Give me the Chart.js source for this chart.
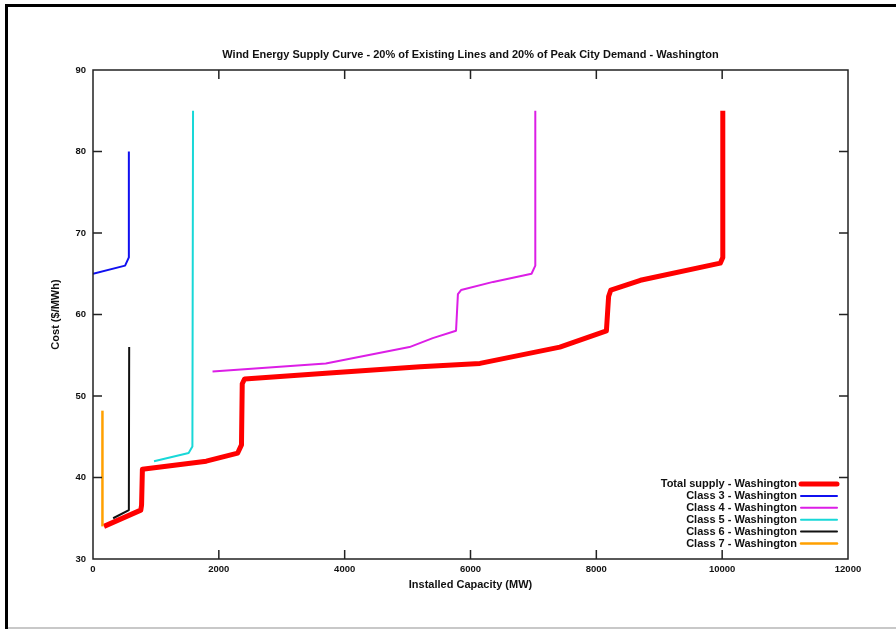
<!DOCTYPE html>
<html>
<head>
<meta charset="utf-8">
<title>Wind Energy Supply Curve - Washington</title>
<script src="https://cdn.jsdelivr.net/npm/chart.js@4.4.0/dist/chart.umd.min.js"></script>
<style>
  body { margin: 0; background: #fff; }
  canvas { display: block; }
</style>
</head>
<body>
<canvas id="chart" width="896" height="629"></canvas>
<script>
const titleText = "Wind Energy Supply Curve - 20% of Existing Lines and 20% of Peak City Demand - Washington";
const xTitle = "Installed Capacity (MW)";
const yTitle = "Cost ($/MWh)";

const seriesLabels = [
  "Total supply - Washington",
  "Class 3 - Washington",
  "Class 4 - Washington",
  "Class 5 - Washington",
  "Class 6 - Washington",
  "Class 7 - Washington",
];
const seriesColors = ["#ff0000", "#1010f0", "#dc1ee6", "#18d8d8", "#111111", "#ffa000"];
const seriesWidths = [5, 2, 2, 2, 2, 2.5];

// capacity (MW) and cost ($/MWh)
const totalX = [175, 760, 772, 785, 1800, 2300, 2360, 2372, 2410, 3700, 5200, 6150, 7420, 8160, 8195, 8230, 8700, 9970, 10010, 10010];
const totalY = [34, 36, 36.6, 41, 42, 43, 44, 51.5, 52.1, 52.8, 53.6, 54, 56, 58, 62.2, 63, 64.2, 66.3, 67, 85];

const class3X = [0, 510, 570, 570];
const class3Y = [65, 66, 67, 80];

const class4X = [1900, 3700, 5030, 5400, 5770, 5800, 5850, 6360, 6970, 7030, 7030];
const class4Y = [53, 54, 56, 57.1, 58, 62.5, 63, 64, 65, 66, 85];

const class5X = [970, 1520, 1580, 1590];
const class5Y = [42, 43, 43.8, 85];

const class6X = [320, 570, 575];
const class6Y = [35, 36, 56];

const class7X = [150, 150];
const class7Y = [34, 48.2];

const xTicks = [0, 2000, 4000, 6000, 8000, 10000, 12000];
const yTicks = [30, 40, 50, 60, 70, 80, 90];

const allX = [totalX, class3X, class4X, class5X, class6X, class7X];
const allY = [totalY, class3Y, class4Y, class5Y, class6Y, class7Y];

function toPoints(xs, ys) {
  return xs.map((x, i) => ({ x: x, y: ys[i] }));
}

const textFont = "'Liberation Sans', Arial, sans-serif";

// page frame like the scanned figure
const framePlugin = {
  id: "frame",
  beforeDraw(chart) {
    const ctx = chart.ctx;
    ctx.save();
    ctx.fillStyle = "#fff";
    ctx.fillRect(0, 0, chart.width, chart.height);
    ctx.fillStyle = "#000";
    ctx.fillRect(5, 4, 3, chart.height - 4);
    ctx.fillRect(5, 4, chart.width - 5, 3);
    ctx.fillStyle = "#c8c8c8";
    ctx.fillRect(8, chart.height - 2, chart.width - 8, 2);
    ctx.restore();
  },
};

// gnuplot style ticks pointing into the plot, on all four sides
const innerTicks = {
  id: "innerTicks",
  afterDatasetsDraw(chart) {
    const ctx = chart.ctx;
    const a = chart.chartArea;
    const len = 9;
    ctx.save();
    ctx.strokeStyle = "#222";
    ctx.lineWidth = 1.5;
    ctx.beginPath();
    xTicks.forEach((v) => {
      const px = chart.scales.x.getPixelForValue(v);
      if (v === xTicks[0] || v === xTicks[xTicks.length - 1]) return;
      ctx.moveTo(px, a.bottom);
      ctx.lineTo(px, a.bottom - len);
      ctx.moveTo(px, a.top);
      ctx.lineTo(px, a.top + len);
    });
    yTicks.forEach((v) => {
      const py = chart.scales.y.getPixelForValue(v);
      if (v === yTicks[0] || v === yTicks[yTicks.length - 1]) return;
      ctx.moveTo(a.left, py);
      ctx.lineTo(a.left + len, py);
      ctx.moveTo(a.right, py);
      ctx.lineTo(a.right - len, py);
    });
    ctx.stroke();
    ctx.strokeRect(a.left, a.top, a.right - a.left, a.bottom - a.top);
    ctx.restore();
  },
};

// key in the lower right corner: text then a line sample
const keyPlugin = {
  id: "key",
  afterDraw(chart) {
    const ctx = chart.ctx;
    const a = chart.chartArea;
    const textRight = a.right - 51;
    const lineStart = a.right - 47;
    const lineEnd = a.right - 11;
    let y = 484;
    ctx.save();
    ctx.font = "bold 11px " + textFont;
    ctx.textAlign = "right";
    ctx.textBaseline = "middle";
    chart.data.datasets.forEach((ds) => {
      ctx.fillStyle = "#111";
      ctx.fillText(ds.label, textRight, y);
      ctx.strokeStyle = ds.borderColor;
      ctx.lineWidth = ds.borderWidth;
      ctx.lineCap = "round";
      ctx.beginPath();
      ctx.moveTo(lineStart, y);
      ctx.lineTo(lineEnd, y);
      ctx.stroke();
      y += 11.9;
    });
    ctx.restore();
  },
};

const datasets = seriesLabels.map((label, i) => ({
  label: label,
  data: toPoints(allX[i], allY[i]),
  borderColor: seriesColors[i],
  backgroundColor: seriesColors[i],
  borderWidth: seriesWidths[i],
  showLine: true,
  pointRadius: 0,
  tension: 0,
  borderJoinStyle: "round",
  order: seriesLabels.length - i,
}));

new Chart(document.getElementById("chart"), {
  type: "scatter",
  data: { datasets: datasets },
  options: {
    responsive: false,
    animation: false,
    devicePixelRatio: 1,
    layout: { padding: { left: 0, top: 0, right: 48, bottom: 0 } },
    plugins: {
      legend: { display: false },
      tooltip: { enabled: false },
      title: {
        display: true,
        text: titleText,
        fullSize: false,
        color: "#111",
        font: { family: textFont, size: 11, weight: "bold", lineHeight: 1 },
        padding: { top: 49.5, bottom: 9.5 },
      },
    },
    scales: {
      x: {
        type: "linear",
        min: 0,
        max: 12000,
        afterFit: (s) => { s.height = 70; },
        afterBuildTicks: (s) => { s.ticks = xTicks.map((v) => ({ value: v })); },
        ticks: {
          color: "#111",
          padding: 5,
          maxRotation: 0,
          callback: (v) => String(v),
          font: { family: textFont, size: 9.5, weight: "bold" },
        },
        grid: { drawOnChartArea: false, drawTicks: false },
        border: { display: false },
        title: {
          display: true,
          text: xTitle,
          color: "#111",
          font: { family: textFont, size: 11, weight: "bold", lineHeight: 1.2 },
          padding: { top: 0, bottom: 37.5 },
        },
      },
      y: {
        type: "linear",
        min: 30,
        max: 90,
        afterFit: (s) => { s.width = 93; },
        afterBuildTicks: (s) => { s.ticks = yTicks.map((v) => ({ value: v })); },
        ticks: {
          color: "#111",
          padding: 7,
          callback: (v) => String(v),
          font: { family: textFont, size: 9.5, weight: "bold" },
        },
        grid: { drawOnChartArea: false, drawTicks: false },
        border: { display: false },
        title: {
          display: true,
          text: yTitle,
          color: "#111",
          font: { family: textFont, size: 11, weight: "bold", lineHeight: 1.2 },
          padding: { top: 49.5, bottom: 0 },
        },
      },
    },
  },
  plugins: [framePlugin, innerTicks, keyPlugin],
});
</script>
</body>
</html>
